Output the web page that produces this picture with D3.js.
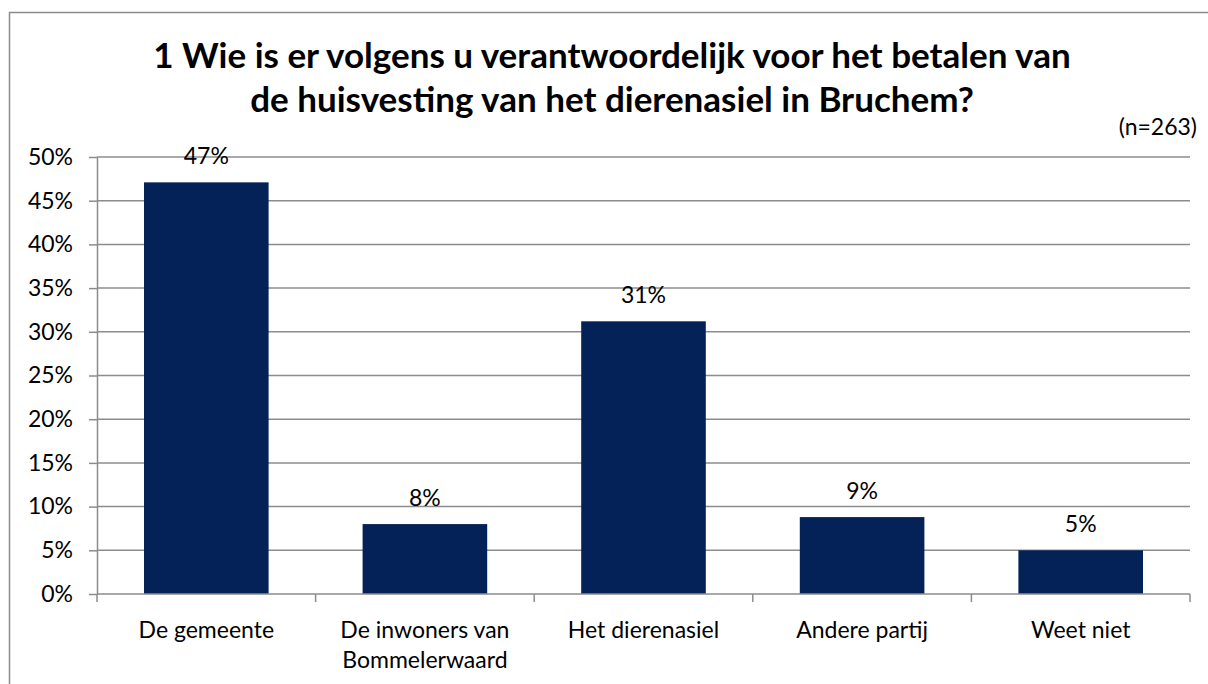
<!DOCTYPE html>
<html>
<head>
<meta charset="utf-8">
<script src="https://cdn.jsdelivr.net/npm/d3@7"></script>
<style>
  body { margin: 0; background: #fff; }
  svg { display: block; font-family: Lato, "Open Sans", sans-serif; }
</style>
</head>
<body>
<svg id="drawing_region"></svg>
<script>
const categories = ['De gemeente', 'De inwoners van|Bommelerwaard', 'Het dierenasiel', 'Andere partij', 'Weet niet'];
const values = [47.1, 8.0, 31.2, 8.8, 5.0];
const valueLabels = ['47%', '8%', '31%', '9%', '5%'];
const yTicks = [0, 5, 10, 15, 20, 25, 30, 35, 40, 45, 50];
const titleLines = ['1 Wie is er volgens u verantwoordelijk voor het betalen van', 'de huisvesting van het dierenasiel in Bruchem?'];
const note = '(n=263)';

const width = 1208, height = 684;
const margin = { top: 157, right: 18, bottom: 90, left: 97 };
const innerW = width - margin.left - margin.right;
const innerH = height - margin.top - margin.bottom;
const fontSize = 23;

const svg = d3.select('#drawing_region')
    .attr('width', width)
    .attr('height', height);

// outer chart border (runs off the right and bottom edges)
svg.append('rect')
    .attr('x', 9.5).attr('y', 12.5)
    .attr('width', width + 20).attr('height', height + 20)
    .attr('fill', 'none').attr('stroke', '#8c8c8c').attr('stroke-width', 1.5);

svg.append('text')
    .attr('x', 612).attr('y', 68)
    .attr('text-anchor', 'middle')
    .attr('font-size', 35).attr('font-weight', 'bold')
    .selectAll('tspan')
    .data(titleLines)
    .join('tspan')
    .attr('x', 612)
    .attr('dy', (d, i) => i === 0 ? 0 : 44)
    .text(d => d);

svg.append('text')
    .attr('x', 1197).attr('y', 135)
    .attr('text-anchor', 'end')
    .attr('font-size', fontSize)
    .text(note);

const chart = svg.append('g')
    .attr('transform', `translate(${margin.left}, ${margin.top})`);

const xscale = d3.scaleBand()
    .domain(categories)
    .range([0, innerW])
    .paddingInner(0.43)
    .paddingOuter(0.215);

const yscale = d3.scaleLinear()
    .domain([0, 50])
    .range([innerH, 0]);

// gridlines
chart.append('g')
    .selectAll('line')
    .data(yTicks.filter(d => d > 0))
    .join('line')
    .attr('x1', 0).attr('x2', innerW)
    .attr('y1', d => yscale(d)).attr('y2', d => yscale(d))
    .attr('stroke', '#8c8c8c').attr('stroke-width', 1.5);

const yaxis = d3.axisLeft(yscale)
    .tickValues(yTicks)
    .tickFormat(d => d + '%')
    .tickSize(8)
    .tickSizeOuter(0)
    .tickPadding(16);

const yaxisGroup = chart.append('g').call(yaxis);
yaxisGroup.select('.domain').attr('stroke', '#8c8c8c').attr('stroke-width', 1.5);
yaxisGroup.selectAll('.tick line').attr('stroke', '#8c8c8c').attr('stroke-width', 1.5);
yaxisGroup.selectAll('.tick text')
    .attr('font-size', fontSize).attr('fill', '#000')
    .attr('font-family', 'Lato, "Open Sans", sans-serif');

// bars
chart.selectAll('rect.bar')
    .data(values)
    .join('rect')
    .attr('class', 'bar')
    .attr('x', (d, i) => xscale(categories[i]))
    .attr('y', d => yscale(d))
    .attr('width', xscale.bandwidth())
    .attr('height', d => innerH - yscale(d))
    .attr('fill', '#042257');

// value labels
chart.selectAll('text.vlabel')
    .data(values)
    .join('text')
    .attr('class', 'vlabel')
    .attr('x', (d, i) => xscale(categories[i]) + xscale.bandwidth() / 2)
    .attr('y', d => yscale(d) - 18)
    .attr('text-anchor', 'middle')
    .attr('font-size', fontSize)
    .text((d, i) => valueLabels[i]);

// x axis line with category boundary ticks
const step = xscale.step();
const xg = chart.append('g').attr('transform', `translate(0, ${innerH})`);
xg.append('line')
    .attr('x1', 0).attr('x2', innerW)
    .attr('stroke', '#8c8c8c').attr('stroke-width', 1.5);
xg.selectAll('line.tk')
    .data(d3.range(categories.length + 1))
    .join('line')
    .attr('class', 'tk')
    .attr('x1', i => i * step).attr('x2', i => i * step)
    .attr('y1', 0).attr('y2', 8)
    .attr('stroke', '#8c8c8c').attr('stroke-width', 1.5);

xg.selectAll('text.cat')
    .data(categories)
    .join('text')
    .attr('class', 'cat')
    .attr('text-anchor', 'middle')
    .attr('font-size', fontSize)
    .attr('y', 44)
    .selectAll('tspan')
    .data(d => d.split('|').map(s => ({ s, c: d })))
    .join('tspan')
    .attr('x', d => xscale(d.c) + xscale.bandwidth() / 2)
    .attr('dy', (d, i) => i === 0 ? 0 : 30)
    .text(d => d.s);
</script>
</body>
</html>
